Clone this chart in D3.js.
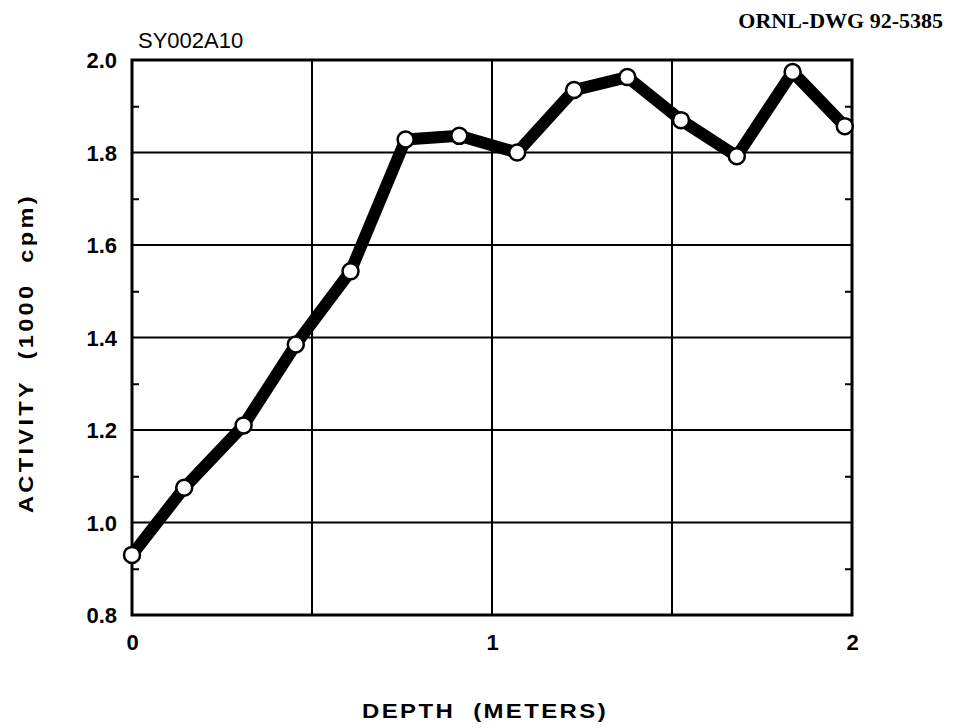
<!DOCTYPE html>
<html>
<head>
<meta charset="utf-8">
<script src="https://cdn.jsdelivr.net/npm/d3@7"></script>
<style>
  body { margin: 0; background: #fff; }
  svg text { fill: #000; }
</style>
</head>
<body>
<svg width="954" height="728"></svg>
<script>
// depth (m) and activity (1000 cpm)
var depth = [0, 0.145, 0.31, 0.455, 0.607, 0.76, 0.909, 1.07, 1.228, 1.376, 1.525, 1.68, 1.835, 1.98];
var activity = [0.93, 1.075, 1.21, 1.385, 1.543, 1.828, 1.836, 1.80, 1.935, 1.963, 1.870, 1.792, 1.974, 1.857];
var xTicks = [0, 1, 2];
var xGrid = [0.5, 1, 1.5];
var yTicks = [0.8, 1.0, 1.2, 1.4, 1.6, 1.8, 2.0];
var yMinor = [0.9, 1.1, 1.3, 1.5, 1.7, 1.9];

var data = depth.map(function(d, i) { return { depth: d, activity: activity[i] }; });

// Setup SVG canvas w/ margin
var svg = d3.select("svg"),
  margin = { top: 60, right: 102, bottom: 113, left: 132 },
  width = +svg.attr("width") - margin.left - margin.right,
  height = +svg.attr("height") - margin.top - margin.bottom,
  g = svg.append("g")
    .attr("transform", "translate(" + margin.left + "," + margin.top + ")");

var x = d3.scaleLinear().domain([0, 2]).range([0, width]);
var y = d3.scaleLinear().domain([0.8, 2.0]).range([height, 0]);

var sans = "Liberation Sans, Arial, Helvetica, sans-serif";

// grid lines
g.selectAll(".hgrid")
  .data(yTicks)
  .enter()
  .append("line")
  .attr("x1", 0)
  .attr("x2", width)
  .attr("y1", function(d) { return y(d); })
  .attr("y2", function(d) { return y(d); })
  .attr("stroke", "#000")
  .attr("stroke-width", 2);

g.selectAll(".vgrid")
  .data(xGrid)
  .enter()
  .append("line")
  .attr("x1", function(d) { return x(d); })
  .attr("x2", function(d) { return x(d); })
  .attr("y1", 0)
  .attr("y2", height)
  .attr("stroke", "#000")
  .attr("stroke-width", 2);

// minor ticks pointing inward on both sides
g.append("g")
  .call(d3.axisLeft(y).tickValues(yMinor).tickSize(-7).tickFormat(""))
  .call(function(a) { a.select(".domain").remove(); })
  .selectAll("line").attr("stroke-width", 2);

g.append("g")
  .attr("transform", "translate(" + width + ",0)")
  .call(d3.axisRight(y).tickValues(yMinor).tickSize(-7).tickFormat(""))
  .call(function(a) { a.select(".domain").remove(); })
  .selectAll("line").attr("stroke-width", 2);

// frame
g.append("rect")
  .attr("width", width)
  .attr("height", height)
  .attr("fill", "none")
  .attr("stroke", "#000")
  .attr("stroke-width", 3);

// y tick labels
var yAxis = g.append("g")
  .call(d3.axisLeft(y).tickValues(yTicks).tickSize(0).tickPadding(15).tickFormat(d3.format(".1f")));
yAxis.select(".domain").remove();
yAxis.selectAll("text")
  .attr("font-family", sans)
  .attr("font-weight", "bold")
  .attr("font-size", 22)
  .attr("dy", "0.36em");

// x tick labels
var xAxis = g.append("g")
  .attr("transform", "translate(0," + height + ")")
  .call(d3.axisBottom(x).tickValues(xTicks).tickSize(0).tickPadding(19).tickFormat(d3.format("d")));
xAxis.select(".domain").remove();
xAxis.selectAll("text")
  .attr("font-family", sans)
  .attr("font-weight", "bold")
  .attr("font-size", 22);

// data line
var line = d3.line()
  .x(function(d) { return x(d.depth); })
  .y(function(d) { return y(d.activity); });

g.append("path")
  .datum(data)
  .attr("d", line)
  .attr("fill", "none")
  .attr("stroke", "#000")
  .attr("stroke-width", 12)
  .attr("stroke-linejoin", "round");

g.selectAll(".pt")
  .data(data)
  .enter()
  .append("circle")
  .attr("class", "pt")
  .attr("cx", function(d) { return x(d.depth); })
  .attr("cy", function(d) { return y(d.activity); })
  .attr("r", 8)
  .attr("fill", "#fff")
  .attr("stroke", "#000")
  .attr("stroke-width", 2.5);

// titles
svg.append("text")
  .attr("x", 138)
  .attr("y", 48)
  .attr("font-family", sans)
  .attr("font-size", 22)
  .text("SY002A10");

svg.append("text")
  .attr("x", 943)
  .attr("y", 28)
  .attr("text-anchor", "end")
  .attr("font-family", "Liberation Serif, Times New Roman, serif")
  .attr("font-weight", "bold")
  .attr("font-size", 22)
  .text("ORNL-DWG 92-5385");

svg.append("text")
  .attr("x", 362)
  .attr("y", 718)
  .attr("font-family", sans)
  .attr("font-weight", "bold")
  .attr("font-size", 20)
  .attr("letter-spacing", "2px")
  .attr("textLength", 246)
  .attr("lengthAdjust", "spacingAndGlyphs")
  .style("white-space", "pre")
  .text("DEPTH  (METERS)");

svg.append("text")
  .attr("transform", "translate(33,513) rotate(-90)")
  .attr("font-family", sans)
  .attr("font-weight", "bold")
  .attr("font-size", 21)
  .attr("letter-spacing", "3px")
  .attr("textLength", 320)
  .attr("lengthAdjust", "spacingAndGlyphs")
  .style("white-space", "pre")
  .text("ACTIVITY  (1000  cpm)");
</script>
</body>
</html>
